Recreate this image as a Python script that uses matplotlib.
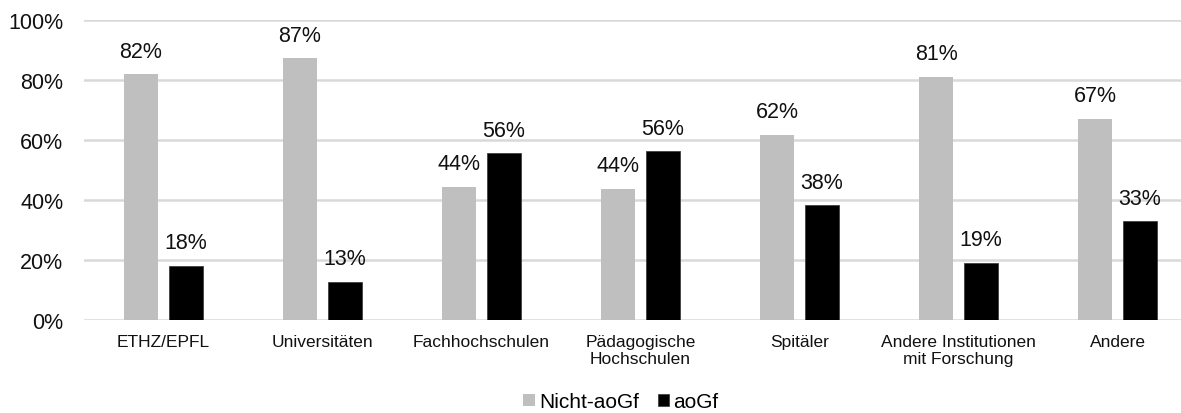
import numpy as np
import matplotlib.pyplot as plt

plt.rcParams['font.family'] = ['Liberation Sans', 'DejaVu Sans']

categories = ["ETHZ/EPFL", "Universitäten", "Fachhochschulen", "Pädagogische\nHochschulen",
              "Spitäler", "Andere Institutionen\nmit Forschung", "Andere"]
nicht_aogf = [82.0, 87.2, 44.4, 43.7, 61.7, 81.0, 67.1]
aogf = [18.0, 12.8, 55.6, 56.3, 38.3, 19.0, 32.9]

fig = plt.figure(figsize=(11.81, 4.14), dpi=100)
ax = fig.add_axes([84 / 1181, 93 / 414, 1113 / 1181, 300 / 414])

x = np.arange(len(categories))
w = 0.22
off = 0.1415
b1 = ax.bar(x - off, nicht_aogf, w, color="#bfbfbf", label="Nicht-aoGf", zorder=3)
b2 = ax.bar(x + off, aogf, w, color="#000000", edgecolor="#404040", linewidth=0.6,
            label="aoGf", zorder=3)

for bars, vals in [(b1, nicht_aogf), (b2, aogf)]:
    for bar, v in zip(bars, vals):
        ax.annotate(f"{v:.0f}%", (bar.get_x() + bar.get_width() / 2, v),
                    xytext=(0, 9), textcoords="offset points",
                    ha="center", va="bottom", fontsize=15.5, color="#111111")

ax.set_xlim(-0.5, len(categories) - 0.5)
ax.set_ylim(0, 100)
ax.set_yticks(range(0, 101, 20))
ax.set_yticklabels([f"{t}%" for t in range(0, 101, 20)], fontsize=15.5, color="#111111")
ax.set_xticks(x)
ax.set_xticklabels(categories, fontsize=12.5, color="#111111", linespacing=1.2)
ax.tick_params(length=0, pad=15, axis="y")
ax.tick_params(length=0, pad=10, axis="x")

ax.yaxis.grid(True, color="#d9d9d9", linewidth=1.8, zorder=0)
for s in ax.spines.values():
    s.set_visible(False)

fig.legend(loc="center", bbox_to_anchor=(621 / 1181, 11 / 414), ncol=2, frameon=False,
           fontsize=15, handlelength=0.55, handleheight=0.55, handletextpad=0.2,
           columnspacing=0.9, borderpad=0.1)

fig.savefig("out.png", dpi=100)
